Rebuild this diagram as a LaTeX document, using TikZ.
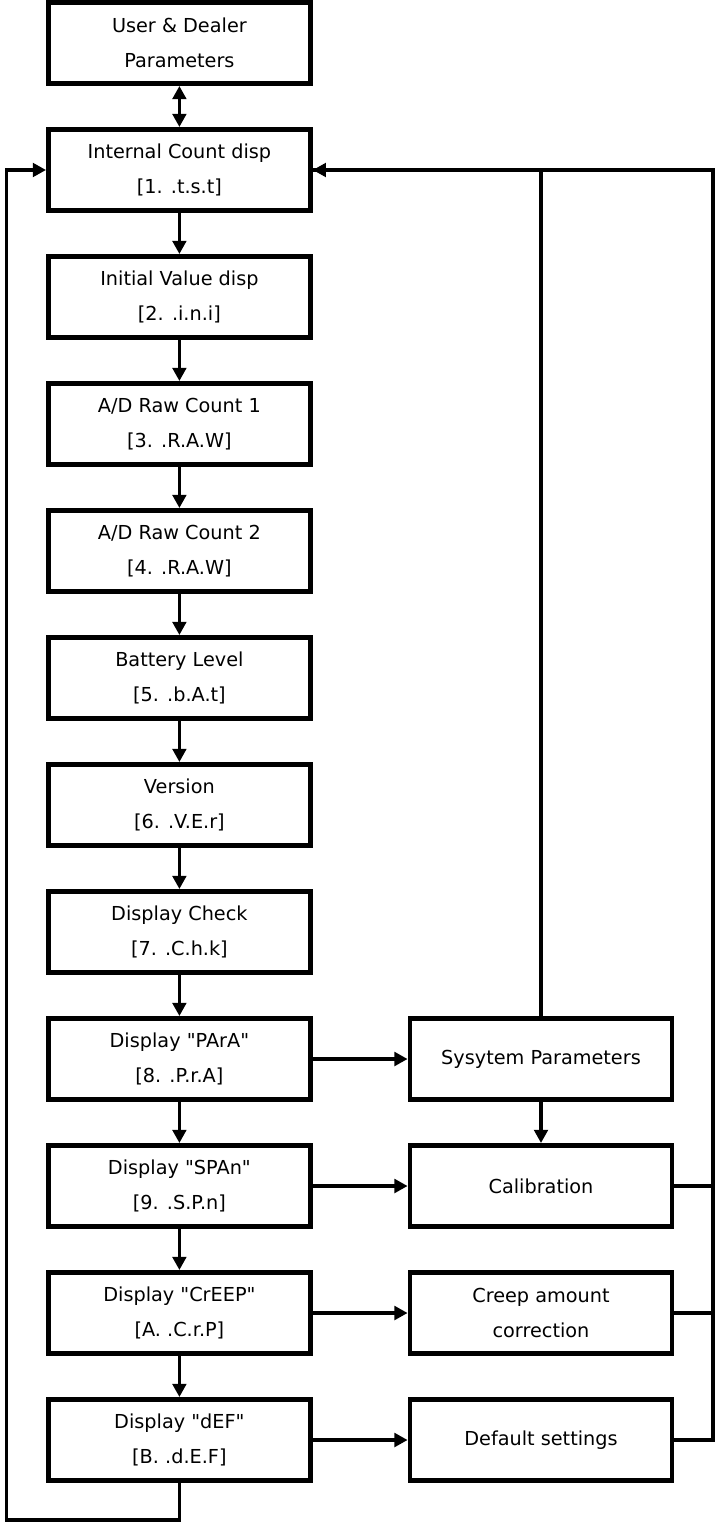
\documentclass[tikz,border=0pt]{standalone}
\usepackage{fontspec}
\setmainfont{DejaVu Sans}
\usepackage{tikz}
\usetikzlibrary{arrows.meta, positioning, calc}

\begin{document}
\begin{tikzpicture}[
    >={Triangle[length=3.3mm, width=3.4mm]},
    font=\fontsize{13.7pt}{25pt}\selectfont,
    box/.style={draw, line width=3.4pt, align=center, inner sep=2pt, fill=white, minimum width=6.55cm, minimum height=2.03cm},
    link/.style={->, line width=2.3pt},
    wire/.style={line width=2.3pt}
]
\useasboundingbox (0,0) rectangle (17.875,-38.1);

% --------------------------------------------------------------------------
% Main sequence
% --------------------------------------------------------------------------
\node[box] (usr) at (4.485,-1.075) {User \& Dealer\\Parameters};
\node[box] (tst) at (4.485,-4.25) {Internal Count disp\\{[}1. .t.s.t]};
\node[box] (ini) at (4.485,-7.425) {Initial Value disp\\{[}2. .i.n.i]};
\node[box] (raw1) at (4.485,-10.6) {A/D Raw Count 1\\{[}3. .R.A.W]};
\node[box] (raw2) at (4.485,-13.775) {A/D Raw Count 2\\{[}4. .R.A.W]};
\node[box] (bat) at (4.485,-16.95) {Battery Level\\{[}5. .b.A.t]};
\node[box] (ver) at (4.485,-20.125) {Version\\{[}6. .V.E.r]};
\node[box] (chk) at (4.485,-23.3) {Display Check\\{[}7. .C.h.k]};
\node[box] (para) at (4.485,-26.475) {Display \textquotedbl PArA\textquotedbl\\{[}8. .P.r.A]};
\node[box] (span) at (4.485,-29.65) {Display \textquotedbl SPAn\textquotedbl\\{[}9. .S.P.n]};
\node[box] (creep) at (4.485,-32.825) {Display \textquotedbl CrEEP\textquotedbl\\{[}A. .C.r.P]};
\node[box] (def) at (4.485,-36.0) {Display \textquotedbl dEF\textquotedbl\\{[}B. .d.E.F]};

\draw[link, <->] (usr.south) -- (tst.north);
\draw[link] (tst.south) -- (ini.north);
\draw[link] (ini.south) -- (raw1.north);
\draw[link] (raw1.south) -- (raw2.north);
\draw[link] (raw2.south) -- (bat.north);
\draw[link] (bat.south) -- (ver.north);
\draw[link] (ver.south) -- (chk.north);
\draw[link] (chk.south) -- (para.north);
\draw[link] (para.south) -- (span.north);
\draw[link] (span.south) -- (creep.north);
\draw[link] (creep.south) -- (def.north);

% --------------------------------------------------------------------------
% Side menus
% --------------------------------------------------------------------------
\node[box] (sysp) at (13.525,-26.475) {Sysytem Parameters};
\node[box] (calib) at (13.525,-29.65) {Calibration};
\node[box] (crp) at (13.525,-32.825) {Creep amount\\correction};
\node[box] (dflt) at (13.525,-36.0) {Default settings};

\draw[link] (para.east) -- (sysp.west);
\draw[link] (span.east) -- (calib.west);
\draw[link] (creep.east) -- (crp.west);
\draw[link] (def.east) -- (dflt.west);
\draw[link] (sysp.south) -- (calib.north);

% Return paths
\coordinate (rtop) at (17.825,-4.25);
\coordinate (lbot) at (0.17,-38.0);

\draw[wire] (sysp.north) |- (tst.east);
\draw[wire] (calib.east) -- (calib.east -| rtop);
\draw[wire] (crp.east) -- (crp.east -| rtop);
\draw[link] (dflt.east) -| (rtop) -- (tst.east);
\draw[link] (def.south) |- (lbot) |- (tst.west);

\end{tikzpicture}
\end{document}
